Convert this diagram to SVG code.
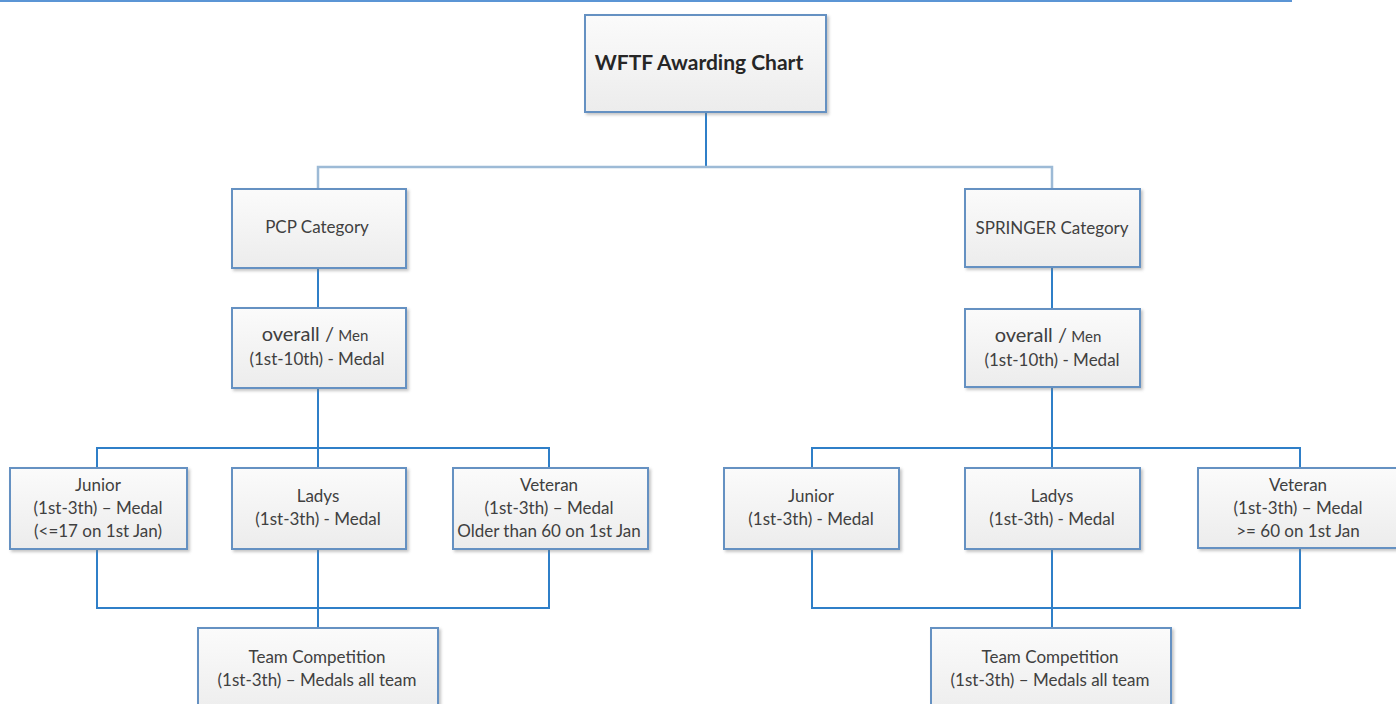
<svg xmlns="http://www.w3.org/2000/svg" width="1396" height="704" viewBox="0 0 1396 704">
<defs>
<linearGradient id="boxfill" x1="0" y1="0" x2="0" y2="1">
<stop offset="0" stop-color="#fbfbfb"/>
<stop offset="1" stop-color="#ececec"/>
</linearGradient>
<filter id="shadow" x="-5%" y="-5%" width="115%" height="120%">
<feDropShadow dx="2" dy="2" stdDeviation="1.5" flood-color="#7f7f7f" flood-opacity="0.45"/>
</filter>
</defs>
<style>
.box{fill:url(#boxfill);stroke:#6591c2;stroke-width:2;filter:url(#shadow)}
.t{font-family:Lato,"Liberation Sans",sans-serif;font-size:17px;fill:#404040;text-anchor:middle}
.title{font-family:Lato,"Liberation Sans",sans-serif;font-size:21px;font-weight:bold;fill:#262626;text-anchor:middle}
.big{font-size:20px}
.small{font-size:15px}
.conn{fill:none;stroke:#2f7fc8;stroke-width:2}
.connl{fill:none;stroke:#9dbad6;stroke-width:2.5}
</style>
<rect x="0" y="0" width="1396" height="704" fill="#ffffff"/>
<line x1="0" y1="1" x2="1292" y2="1" stroke="#5b95d5" stroke-width="2"/>

<g id="connectors">
<line class="conn" x1="706" y1="112" x2="706" y2="167"/>
<polyline class="connl" points="318,188 318,167 1052,167 1052,188"/>
<line class="conn" x1="318" y1="268" x2="318" y2="308"/>
<line class="conn" x1="1052" y1="267" x2="1052" y2="309"/>
<line class="conn" x1="318" y1="388" x2="318" y2="468"/>
<polyline class="conn" points="97,468 97,448 549,448 549,468"/>
<line class="conn" x1="1052" y1="387" x2="1052" y2="468"/>
<polyline class="conn" points="812,468 812,448 1300,448 1300,468"/>
<polyline class="conn" points="97,549 97,608 549,608 549,549"/>
<line class="conn" x1="318" y1="549" x2="318" y2="628"/>
<polyline class="conn" points="812,549 812,608 1300,608 1300,549"/>
<line class="conn" x1="1052" y1="549" x2="1052" y2="628"/>
</g>

<g id="title">
<rect class="box" x="585" y="15" width="241" height="97"/>
<text class="title" x="699" y="70">WFTF Awarding Chart</text>
</g>

<g id="pcp">
<rect class="box" x="232" y="189" width="174" height="79"/>
<text class="t" x="317" y="233">PCP Category</text>
</g>

<g id="springer">
<rect class="box" x="965" y="189" width="175" height="78"/>
<text class="t" x="1052" y="234">SPRINGER Category</text>
</g>

<g id="pcp-overall">
<rect class="box" x="232" y="308" width="174" height="80"/>
<text class="t" x="315" y="341"><tspan class="big">overall /</tspan> <tspan class="small">Men</tspan></text>
<text class="t" x="317" y="365">(1st-10th) - Medal</text>
</g>

<g id="spr-overall">
<rect class="box" x="965" y="309" width="175" height="78"/>
<text class="t" x="1048" y="342"><tspan class="big">overall /</tspan> <tspan class="small">Men</tspan></text>
<text class="t" x="1052" y="366">(1st-10th) - Medal</text>
</g>

<g id="pcp-junior">
<rect class="box" x="10" y="468" width="177" height="81"/>
<text class="t" x="98" y="491">Junior</text>
<text class="t" x="98" y="514">(1st-3th) – Medal</text>
<text class="t" x="98" y="537">(&lt;=17 on 1st Jan)</text>
</g>

<g id="pcp-ladys">
<rect class="box" x="232" y="468" width="174" height="81"/>
<text class="t" x="318" y="502">Ladys</text>
<text class="t" x="318" y="525">(1st-3th) - Medal</text>
</g>

<g id="pcp-veteran">
<rect class="box" x="453" y="468" width="195" height="81"/>
<text class="t" x="549" y="491">Veteran</text>
<text class="t" x="549" y="514">(1st-3th) – Medal</text>
<text class="t" x="549" y="537">Older than 60 on 1st Jan</text>
</g>

<g id="spr-junior">
<rect class="box" x="724" y="468" width="175" height="81"/>
<text class="t" x="811" y="502">Junior</text>
<text class="t" x="811" y="525">(1st-3th) - Medal</text>
</g>

<g id="spr-ladys">
<rect class="box" x="965" y="468" width="175" height="81"/>
<text class="t" x="1052" y="502">Ladys</text>
<text class="t" x="1052" y="525">(1st-3th) - Medal</text>
</g>

<g id="spr-veteran">
<rect class="box" x="1198" y="468" width="200" height="80"/>
<text class="t" x="1298" y="491">Veteran</text>
<text class="t" x="1298" y="514">(1st-3th) – Medal</text>
<text class="t" x="1298" y="537">&gt;= 60 on 1st Jan</text>
</g>

<g id="pcp-team">
<rect class="box" x="198" y="628" width="240" height="90"/>
<text class="t" x="317" y="663">Team Competition</text>
<text class="t" x="317" y="686">(1st-3th) – Medals all team</text>
</g>

<g id="spr-team">
<rect class="box" x="931" y="628" width="240" height="90"/>
<text class="t" x="1050" y="663">Team Competition</text>
<text class="t" x="1050" y="686">(1st-3th) – Medals all team</text>
</g>
</svg>
